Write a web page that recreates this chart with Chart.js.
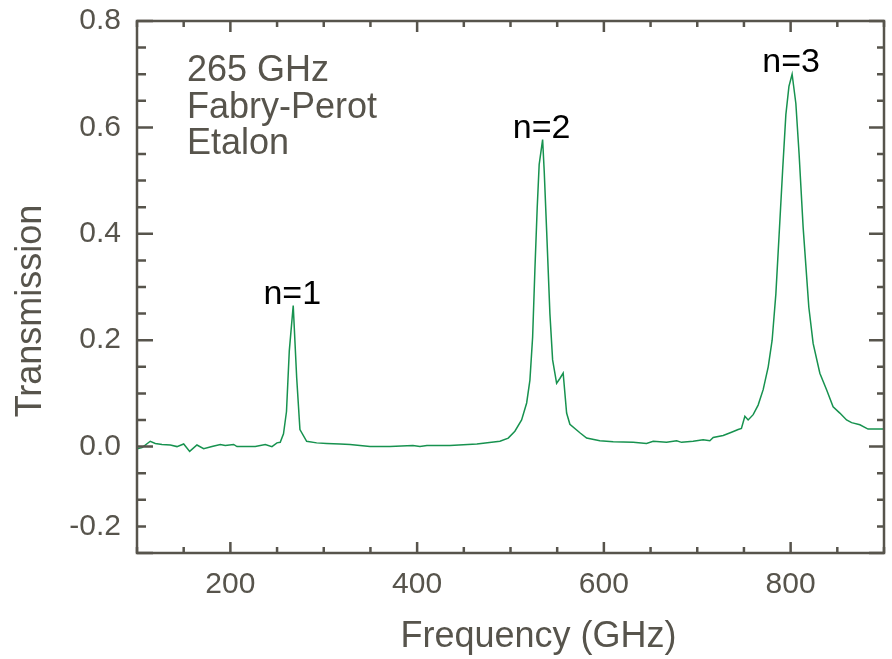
<!DOCTYPE html>
<html>
<head>
<meta charset="utf-8">
<script src="https://cdn.jsdelivr.net/npm/chart.js@4"></script>
<style>
  html, body { margin: 0; padding: 0; background: #fff; }
  #wrap { width: 892px; height: 659px; }
</style>
</head>
<body>
<div id="wrap"><canvas id="chart"></canvas></div>
<script>
// Etalon transmission data
const freqGHz = [
  100.0, 105.4, 114.2, 119.6, 126.8, 135.7, 142.8, 150.0, 156.4, 164.2,
  171.4, 180.3, 189.2, 194.5, 203.5, 207.1, 217.8, 226.7, 237.4, 244.5,
  249.9, 253.4, 256.9, 260.1, 263.1, 267.3, 271.0, 274.5, 281.7, 292.4,
  303.1, 317.4, 328.1, 338.8, 349.5, 370.9, 395.5, 403.0, 410.5, 435.1,
  464.0, 488.7, 497.6, 504.7, 511.9, 517.3, 520.8, 523.7, 526.1, 528.6,
  530.7, 534.4, 536.1, 538.7, 542.2, 545.1, 549.4, 552.9, 556.4, 560.1,
  563.6, 574.3, 581.5, 595.7, 610.0, 631.4, 645.7, 652.8, 667.1, 677.9,
  683.2, 695.6, 706.3, 713.5, 717.1, 727.8, 736.7, 743.8, 747.3, 751.0,
  754.5, 759.9, 765.2, 770.6, 776.0, 780.2, 784.2, 787.7, 791.4, 794.9,
  798.2, 801.6, 805.6, 809.1, 813.4, 819.5, 824.1, 831.3, 838.5, 845.5,
  852.7, 859.9, 865.3, 874.2, 882.9, 900.0
];
const transmission = [
  -0.004, -0.002, 0.010, 0.006, 0.004, 0.003, 0.000, 0.005, -0.009, 0.003,
  -0.004, 0.000, 0.004, 0.002, 0.004, 0.000, 0.000, 0.000, 0.004, 0.000,
  0.007, 0.008, 0.024, 0.066, 0.180, 0.265, 0.130, 0.032, 0.010, 0.007,
  0.006, 0.005, 0.004, 0.002, 0.000, 0.000, 0.002, 0.000, 0.002, 0.002,
  0.005, 0.010, 0.016, 0.029, 0.050, 0.082, 0.125, 0.206, 0.331, 0.449,
  0.530, 0.577, 0.518, 0.406, 0.250, 0.163, 0.119, 0.128, 0.138, 0.063,
  0.042, 0.026, 0.016, 0.011, 0.009, 0.008, 0.006, 0.010, 0.008, 0.011,
  0.008, 0.010, 0.013, 0.011, 0.017, 0.021, 0.027, 0.032, 0.034, 0.057,
  0.050, 0.060, 0.078, 0.107, 0.150, 0.200, 0.287, 0.399, 0.518, 0.624,
  0.677, 0.700, 0.645, 0.549, 0.412, 0.262, 0.194, 0.138, 0.107, 0.075,
  0.063, 0.050, 0.045, 0.041, 0.033, 0.033
];
// peak order labels and the window each peak sits in
const peakLabels = ['n=1', 'n=2', 'n=3'];
const peakWindows = [[240, 300], [500, 580], [760, 850]];
const noteLines = ['265 GHz', 'Fabry-Perot', 'Etalon'];
const xTitle = 'Frequency (GHz)';
const yTitle = 'Transmission';

const axisColor = '#57544c';
const lineColor = '#17924f';
const fontFamily = '"Liberation Sans", Arial, sans-serif';

const points = freqGHz.map((f, i) => ({ x: f, y: transmission[i] }));

// frame, inward ticks and the text annotations
const decorations = {
  id: 'decorations',
  afterDraw(chart) {
    const ctx = chart.ctx;
    const a = chart.chartArea;
    const xs = chart.scales.x, ys = chart.scales.y;
    ctx.save();
    ctx.strokeStyle = axisColor;
    ctx.lineWidth = 2.5;
    ctx.strokeRect(a.left, a.top, a.right - a.left, a.bottom - a.top);

    // x ticks every 50 GHz, longer every 200
    for (let v = 100; v <= 900; v += 50) {
      const px = xs.getPixelForValue(v);
      const len = v % 200 === 0 ? 11 : 6;
      ctx.beginPath();
      ctx.moveTo(px, a.bottom); ctx.lineTo(px, a.bottom - len);
      ctx.moveTo(px, a.top); ctx.lineTo(px, a.top + len);
      ctx.stroke();
    }
    // y ticks every 0.05, longer every 0.2
    for (let k = -4; k <= 16; k++) {
      const py = ys.getPixelForValue(k * 0.05);
      const major = k % 4 === 0;
      ctx.beginPath();
      ctx.moveTo(a.left, py); ctx.lineTo(a.left + (major ? 16 : 9), py);
      ctx.moveTo(a.right, py); ctx.lineTo(a.right - (major ? 15 : 7), py);
      ctx.stroke();
    }

    // peak labels, centred over each peak maximum
    ctx.fillStyle = '#000';
    ctx.font = '34px ' + fontFamily;
    ctx.textAlign = 'center';
    ctx.textBaseline = 'alphabetic';
    peakWindows.forEach((w, i) => {
      let best = null;
      points.forEach(p => {
        if (p.x >= w[0] && p.x <= w[1] && (!best || p.y > best.y)) best = p;
      });
      ctx.fillText(peakLabels[i], xs.getPixelForValue(best.x) - 1, ys.getPixelForValue(best.y) - 2);
    });

    // note in the top-left corner
    ctx.fillStyle = axisColor;
    ctx.font = '36px ' + fontFamily;
    ctx.textAlign = 'left';
    noteLines.forEach((t, i) => ctx.fillText(t, a.left + 50, a.top + 60 + i * 36.5));

    // axis titles
    ctx.textAlign = 'center';
    ctx.textBaseline = 'middle';
    ctx.fillText(xTitle, (a.left + a.right) / 2 + 28, 637);
    ctx.translate(31, (a.top + a.bottom) / 2 + 24);
    ctx.rotate(-Math.PI / 2);
    ctx.fillText(yTitle, 0, 0);
    ctx.restore();
  }
};

new Chart(document.getElementById('chart'), {
  type: 'line',
  data: {
    datasets: [{
      data: points,
      borderColor: lineColor,
      borderWidth: 1.5,
      pointRadius: 0,
      tension: 0,
      fill: false
    }]
  },
  options: {
    responsive: true,
    maintainAspectRatio: false,
    animation: false,
    layout: { padding: { top: 21, right: 8, bottom: 0, left: 0 } },
    plugins: {
      legend: { display: false },
      tooltip: { enabled: false }
    },
    scales: {
      x: {
        type: 'linear',
        min: 100,
        max: 900,
        afterFit(scale) {
          scale.height = 106;
          scale.paddingLeft = 0;
          scale.paddingRight = 0;
        },
        grid: { display: false, drawTicks: false },
        border: { display: false },
        ticks: {
          stepSize: 50,
          autoSkip: false,
          maxRotation: 0,
          padding: 14,
          color: axisColor,
          font: { family: fontFamily, size: 30 },
          callback: v => (v % 200 === 0 && v > 100 && v < 900) ? String(v) : ''
        }
      },
      y: {
        min: -0.2,
        max: 0.8,
        afterFit(scale) {
          scale.width = 137;
          scale.paddingTop = 0;
          scale.paddingBottom = 0;
        },
        grid: { display: false, drawTicks: false },
        border: { display: false },
        ticks: {
          stepSize: 0.05,
          autoSkip: false,
          padding: 16,
          color: axisColor,
          font: { family: fontFamily, size: 30 },
          callback: v => {
            const r = Math.round(v * 100);
            if (r === -15) return '-0.2';
            if (r >= 0 && r % 20 === 0) return (r / 100).toFixed(1);
            return '';
          }
        }
      }
    }
  },
  plugins: [decorations]
});
</script>
</body>
</html>
